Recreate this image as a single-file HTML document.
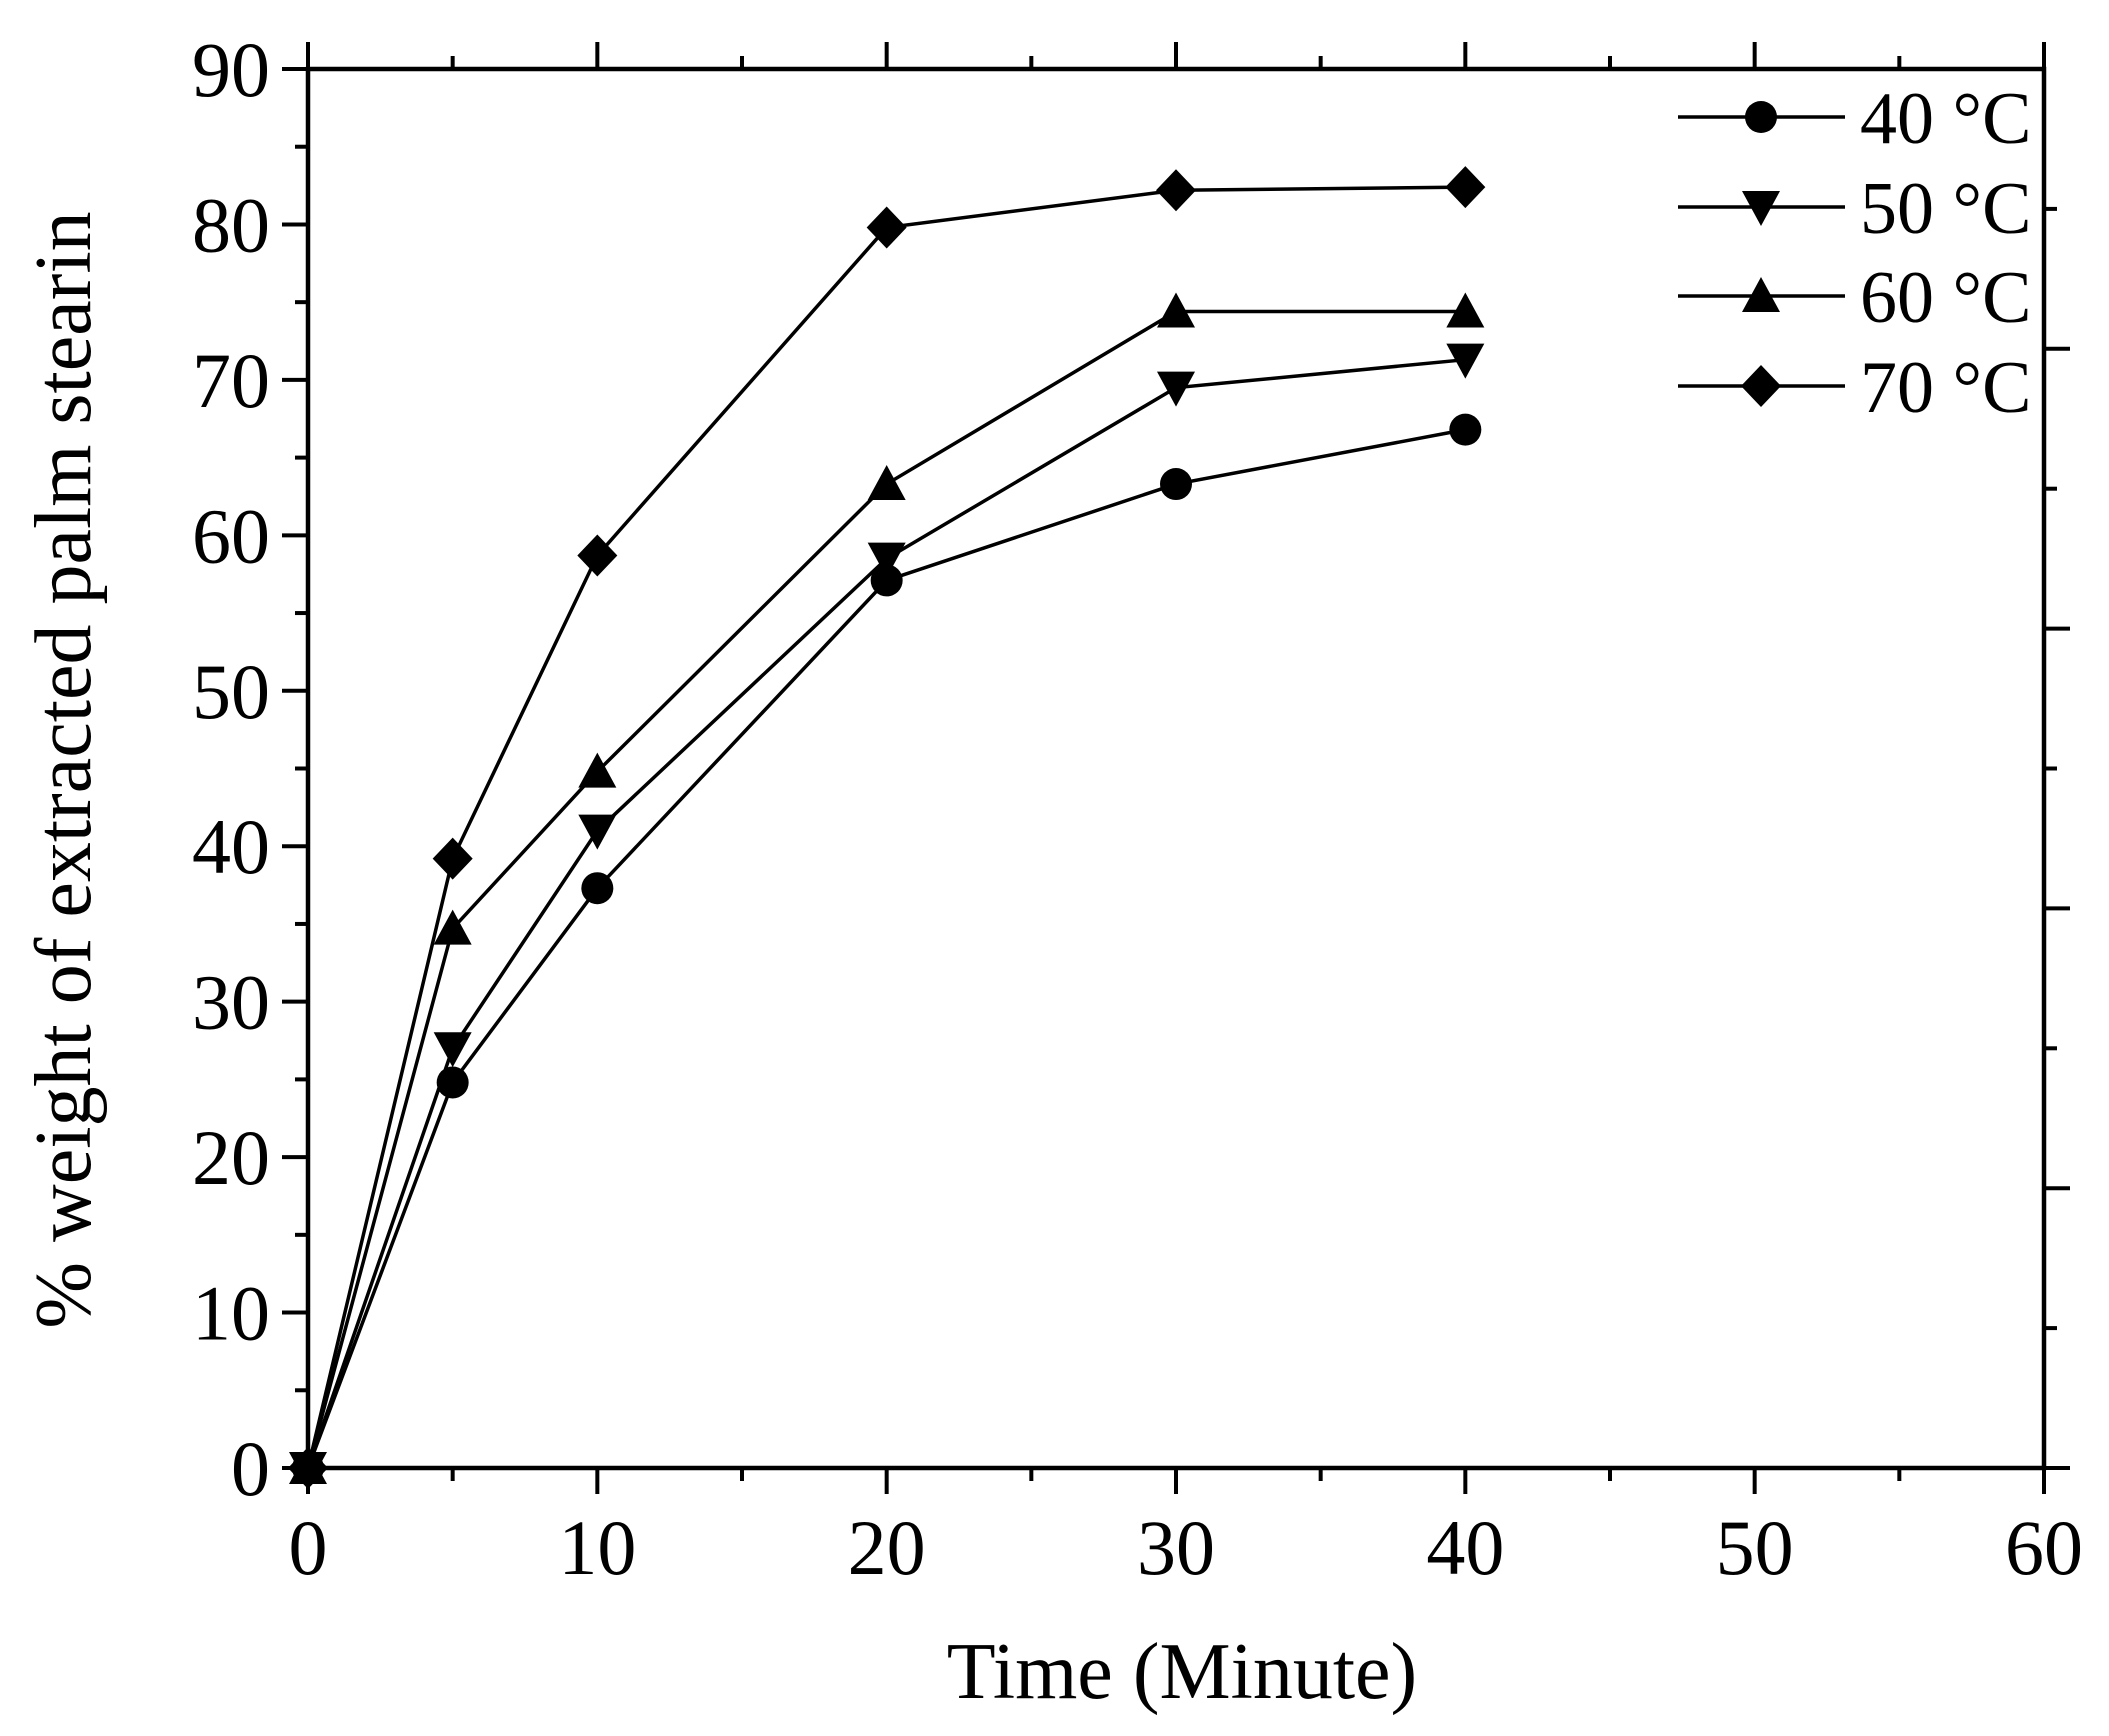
<!DOCTYPE html>
<html><head><meta charset="utf-8"><style>html,body{margin:0;padding:0;background:#fff}</style></head>
<body>
<svg width="2109" height="1731" viewBox="0 0 2109 1731" xmlns="http://www.w3.org/2000/svg" font-family="Liberation Serif, serif">
<g id="ticks" stroke="#000" stroke-width="4"></g>
<rect x="308" y="69" width="1736" height="1399" fill="none" stroke="#000" stroke-width="4.5"/>
<g id="series" stroke="#000" stroke-width="3.5" fill="#000"></g>
<g id="labels" font-size="78" fill="#000"></g>
<text x="1182" y="1698" font-size="80" text-anchor="middle">Time (Minute)</text>
<text transform="translate(90,770) rotate(-90)" font-size="80" text-anchor="middle">% weight of extracted palm stearin</text>
<g id="legend" stroke="#000" stroke-width="3.5" fill="#000"></g>
<script>
var ns="http://www.w3.org/2000/svg";
function el(p,t,a,txt){var e=document.createElementNS(ns,t);for(var k in a)e.setAttribute(k,a[k]);if(txt)e.textContent=txt;document.getElementById(p).appendChild(e);return e;}
var X0=308,X1=2044,Y0=1468,Y1=69;
function X(v){return X0+(X1-X0)*v/60}function Y(v){return Y0-(Y0-Y1)*v/90}
for(var v=0;v<=90;v+=5){var y=Y(v),m=v%10==0;el('ticks','line',{x1:X0-(m?26:13),x2:X0,y1:y,y2:y});
 if(m)el('labels','text',{x:270,y:y+27,'text-anchor':'end'},String(v));}
for(var v=0;v<=60;v+=5){var x=X(v),m=v%10==0;el('ticks','line',{x1:x,x2:x,y1:Y0,y2:Y0+(m?26:13)});
 el('ticks','line',{x1:x,x2:x,y1:Y1,y2:Y1-(m?27:13)});
 if(m)el('labels','text',{x:x,y:1574,'text-anchor':'middle'},String(v));}
for(var k=0;k<=9;k++){var y=Y0-139.9*k;el('ticks','line',{x1:X1,x2:X1+(k%2==0?26:13),y1:y,y2:y});}
var xs=[0,5,10,20,30,40];
var data=[[0,24.8,37.3,57.1,63.3,66.8],[0,27.0,41.0,58.5,69.5,71.3],[0,34.7,44.8,63.3,74.4,74.4],[0,39.2,58.7,79.8,82.2,82.4]];
function marker(g,t,x,y){
 if(t==0)el(g,'circle',{cx:x,cy:y,r:16,stroke:'none'});
 else if(t==1)el(g,'polygon',{points:(x-19)+','+(y-16)+' '+(x+19)+','+(y-16)+' '+x+','+(y+19),stroke:'none'});
 else if(t==2)el(g,'polygon',{points:(x-19)+','+(y+16)+' '+(x+19)+','+(y+16)+' '+x+','+(y-19),stroke:'none'});
 else el(g,'polygon',{points:x+','+(y-21)+' '+(x+20)+','+y+' '+x+','+(y+21)+' '+(x-20)+','+y,stroke:'none'});}
data.forEach(function(d,t){var pts=d.map(function(v,i){return X(xs[i])+','+Y(v)}).join(' ');
 el('series','polyline',{points:pts,fill:'none'});d.forEach(function(v,i){marker('series',t,X(xs[i]),Y(v));});});
var ly=[117,207,296,386],ln=['40 °C','50 °C','60 °C','70 °C'];
for(var i=0;i<4;i++){el('legend','line',{x1:1678,x2:1845,y1:ly[i],y2:ly[i]});marker('legend',i,1761,ly[i]);
 el('legend','text',{x:1860,y:ly[i]+26,'font-size':74,stroke:'none'},ln[i]);}
</script>
</svg>
</body></html>
